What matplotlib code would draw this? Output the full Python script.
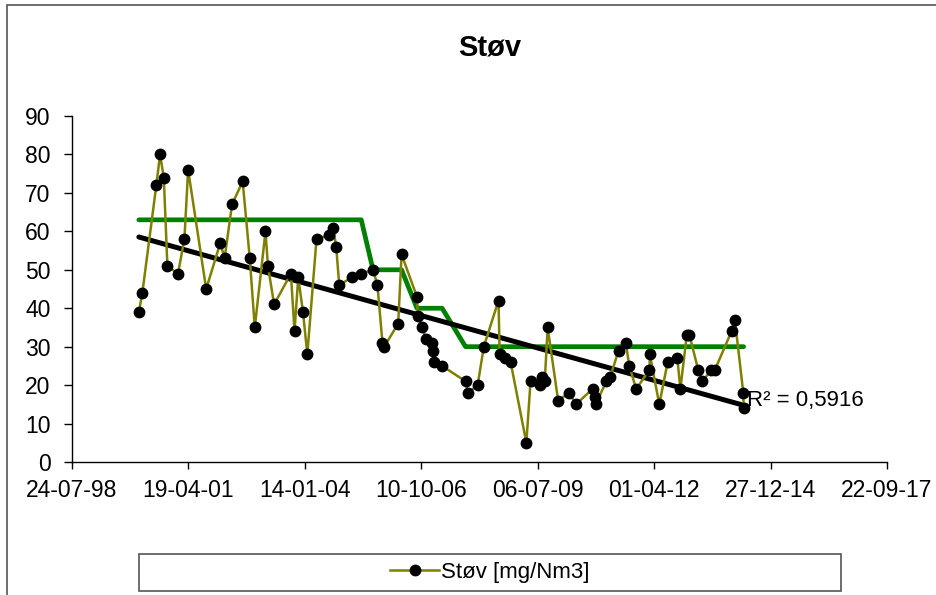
import numpy as np
import pandas as pd
import matplotlib
matplotlib.use("Agg")
import matplotlib.pyplot as plt
import matplotlib.dates as mdates
from matplotlib.patches import Rectangle

plt.rcParams['font.family'] = ['Liberation Sans', 'DejaVu Sans']

# maledatoer og målt støv [mg/Nm3]
datoer = ['2000-02-22', '2000-03-23', '2000-07-21', '2000-08-22', '2000-09-23', '2000-10-24',
          '2001-01-23', '2001-03-19', '2001-04-20', '2001-09-22',
          '2002-01-21', '2002-02-27', '2002-05-02', '2002-08-01', '2002-10-01', '2002-11-13',
          '2003-02-13', '2003-03-06', '2003-04-28', '2003-09-19', '2003-10-20', '2003-11-21',
          '2004-01-01', '2004-02-07', '2004-04-26', '2004-08-07', '2004-09-15', '2004-10-12', '2004-11-07',
          '2005-02-21', '2005-05-15', '2005-08-24', '2005-10-01', '2005-11-13', '2005-11-28',
          '2006-03-28', '2006-04-26', '2006-09-05', '2006-09-12', '2006-10-22', '2006-11-18',
          '2007-01-10', '2007-01-21', '2007-01-30', '2007-04-09', '2007-10-27', '2007-11-16',
          '2008-02-08', '2008-04-01', '2008-08-05', '2008-08-15', '2008-09-28', '2008-11-17',
          '2009-04-01', '2009-05-07', '2009-07-25', '2009-08-13', '2009-09-06', '2009-10-01', '2009-12-30',
          '2010-04-04', '2010-06-01', '2010-10-21', '2010-11-13', '2010-11-16',
          '2011-02-17', '2011-03-21', '2011-06-01', '2011-08-03', '2011-09-01', '2011-10-31',
          '2012-02-22', '2012-02-25', '2012-05-16', '2012-07-27', '2012-10-18', '2012-11-13',
          '2013-01-07', '2013-01-30', '2013-04-15', '2013-05-21', '2013-08-07', '2013-09-06',
          '2014-01-26', '2014-02-24', '2014-05-07', '2014-05-10']
stov = [39, 44, 72, 80, 74, 51,
        49, 58, 76, 45,
        57, 53, 67, 73, 53, 35,
        60, 51, 41, 49, 34, 48,
        39, 28, 58, 59, 61, 56, 46,
        48, 49, 50, 46, 31, 30,
        36, 54, 43, 38, 35, 32,
        31, 29, 26, 25, 21, 18,
        20, 30, 42, 28, 27, 26,
        5, 21, 20, 22, 21, 35, 16,
        18, 15, 19, 17, 15,
        21, 22, 29, 31, 25, 19,
        24, 28, 15, 26, 27, 19,
        33, 33, 24, 21, 24, 24,
        34, 37, 18, 14]
# grenseverdi
grense = [63] * 31 + [50] * 6 + [40] * 8 + [30] * 42

t = pd.to_datetime(datoer)
tn = mdates.date2num(t)

# lineær trend
a, b = np.polyfit(tn, stov, 1)
trend = a * tn + b

fig = plt.figure(figsize=(9.36, 5.95), dpi=100)
ax = fig.add_axes([0.0764, 0.2235, 0.8713, 0.5815])

ax.plot(t, grense, color='#008000', lw=3.4, zorder=2, solid_capstyle='round')
ax.plot(t[[0, -1]], trend[[0, -1]], color='black', lw=3.6, zorder=3, solid_capstyle='round')
ax.plot(t, stov, color='#808000', lw=1.8, marker='o', ms=7.5, mfc='black', mec='black',
        zorder=4, label='Støv [mg/Nm3]')

ax.text(0.828, 0.179, 'R² = 0,5916', transform=ax.transAxes, fontsize=16,
        ha='left', va='center', zorder=5)

start = pd.Timestamp('1998-07-24')
ticks = [start + pd.Timedelta(days=1000 * i) for i in range(8)]
ax.set_xlim(ticks[0], ticks[-1])
ax.set_xticks(ticks)
ax.xaxis.set_major_formatter(mdates.DateFormatter('%d-%m-%y'))
ax.set_ylim(0, 90)
ax.set_yticks(range(0, 91, 10))

for s in ['top', 'right']:
    ax.spines[s].set_visible(False)
for s in ['left', 'bottom']:
    ax.spines[s].set_color('black')
    ax.spines[s].set_linewidth(1)
ax.tick_params(axis='y', direction='out', length=6, width=1, labelsize=16.5, pad=9)
ax.tick_params(axis='x', direction='out', length=5, width=1, labelsize=16.5, pad=7)

fig.text(0.5235, 0.921, 'Støv', fontsize=21, fontweight='bold', ha='center', va='center')

# ramme rundt diagrammet
fig.patches.append(Rectangle((7 / 936, -0.01), 1.0, 1 - 5 / 595 + 0.01, transform=fig.transFigure,
                             fill=False, edgecolor='#555555', lw=1.2))
# legendeboks
fig.patches.append(Rectangle((139 / 936, 1 - 591 / 595), (841 - 139) / 936, 37 / 595,
                             transform=fig.transFigure, facecolor='white',
                             edgecolor='#555555', lw=1.2))
h, l = ax.get_legend_handles_labels()
fig.legend(h, l, loc='center', bbox_to_anchor=(0.5235, 1 - 572.5 / 595), frameon=False,
           fontsize=16, handlelength=2.2, handletextpad=0.1)

fig.savefig('out.png', dpi=100)
